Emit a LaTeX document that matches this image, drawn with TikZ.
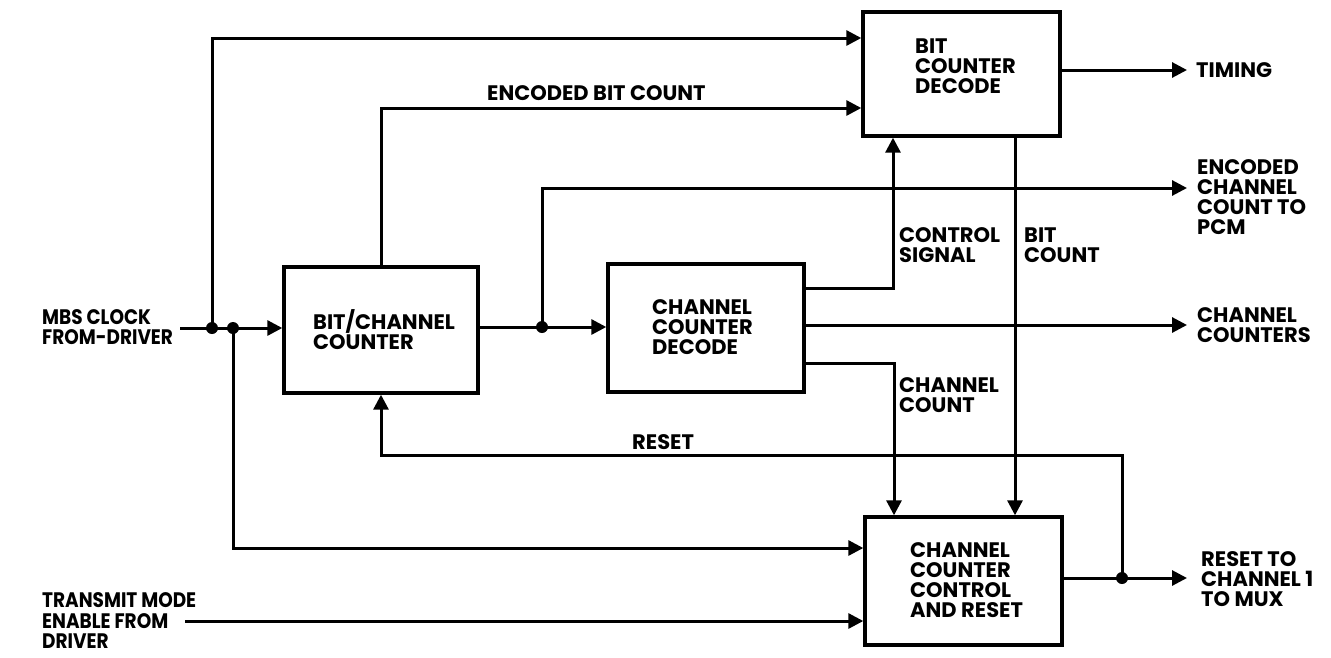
\documentclass[tikz,border=0pt]{standalone}
\usepackage{fontspec}
\setmainfont{Poppins}
\newfontfamily\nrw{Poppins}[FakeStretch=0.88]
\usetikzlibrary{arrows.meta}
\begin{document}
\begin{tikzpicture}[x=1pt,y=-1pt,
  box/.style={draw, line width=3.4pt, inner sep=0pt},
  ln/.style={line width=3pt},
  arr/.style={ln, -{Triangle[length=15pt,width=15pt]}},
  lbl/.style={inner sep=0pt, anchor=west, align=left, font=\fontsize{21}{20}\selectfont\bfseries},
  nlbl/.style={lbl, font=\nrw\fontsize{21}{20.5}\selectfont\bfseries}]
\useasboundingbox (0,0) rectangle (1331,657);
% blocks
\node[box, minimum width=197pt, minimum height=124pt] (bcd) at (961.5,74) {};
\node[box, minimum width=194pt, minimum height=126pt] (bcc) at (381,330) {};
\node[box, minimum width=196pt, minimum height=128pt] (ccd) at (706,328) {};
\node[box, minimum width=197pt, minimum height=128pt] (cccr) at (963.5,581) {};
% texts
\node[lbl] (tbcd) at (915,66) {BIT\\COUNTER\\DECODE};
\node[lbl] (tbcc) at (313,330) {BIT/CHANNEL\\COUNTER};
\node[lbl] (tccd) at (652,327) {CHANNEL\\COUNTER\\DECODE};
\node[lbl] (tcccr) at (910,580) {CHANNEL\\COUNTER\\CONTROL\\AND RESET};
\node[nlbl] (tmbs) at (42,327) {MBS CLOCK\\FROM-DRIVER};
\node[nlbl] (ttx) at (42,621) {TRANSMIT MODE\\ENABLE FROM\\DRIVER};
\node[lbl] (tebc) at (487,93) {ENCODED BIT COUNT};
\node[lbl] (ttim) at (1196,70) {TIMING};
\node[lbl] (tecc) at (1197,197) {ENCODED\\CHANNEL\\COUNT TO\\PCM};
\node[lbl] (tcs) at (899,245) {CONTROL\\SIGNAL};
\node[lbl] (tbit) at (1024,245) {BIT\\COUNT};
\node[lbl] (tcc) at (1197,325) {CHANNEL\\COUNTERS};
\node[lbl] (tchc) at (899,395) {CHANNEL\\COUNT};
\node[lbl] (trst) at (632,442) {RESET};
\node[lbl] (trto) at (1201,579) {RESET TO\\CHANNEL 1\\TO MUX};
% coordinates
\coordinate (in1) at (180,328);
\coordinate (j1) at (212,328);
\coordinate (j2) at (233,328);
\coordinate (j3) at (542,327);
\coordinate (j4) at (1122,578);
\coordinate (in2) at (185,621);
\coordinate (oTim) at (1187,70);
\coordinate (oEcc) at (1187,188);
\coordinate (oCc) at (1187,325);
\coordinate (oRst) at (1187,578);
% connectors
\draw[ln] (in1) -- (j2);
\draw[arr] (j2) -- (bcc.west |- j2);
\draw[arr] (j1) |- (bcd.west |- 0,38);
\draw[arr] (bcc.north) |- (bcd.west |- 0,108);
\draw[ln] (bcc.east |- j3) -- (j3);
\draw[arr] (j3) -- (ccd.west |- j3);
\draw[arr] (j3) |- (oEcc);
\draw[arr] (ccd.east |- 0,288) -| (bcd.south -| 893,0);
\draw[arr] (ccd.east |- oCc) -- (oCc);
\draw[arr] (ccd.east |- 0,363) -| (cccr.north -| 894,0);
\draw[arr] (bcd.south -| 1015,0) -- (cccr.north -| 1015,0);
\draw[arr] (bcd.east |- oTim) -- (oTim);
\draw[arr] (j2) |- (cccr.west |- 0,548);
\draw[arr] (in2) -- (cccr.west |- in2);
\draw[ln] (cccr.east |- j4) -- (j4);
\draw[arr] (j4) -- (oRst);
\draw[arr] (j4) |- (bcc.south |- 0,455) -- (bcc.south);
% junction dots
\fill (j1) circle (6pt);
\fill (j2) circle (6pt);
\fill (j3) circle (6pt);
\fill (j4) circle (6pt);
\end{tikzpicture}
\end{document}
